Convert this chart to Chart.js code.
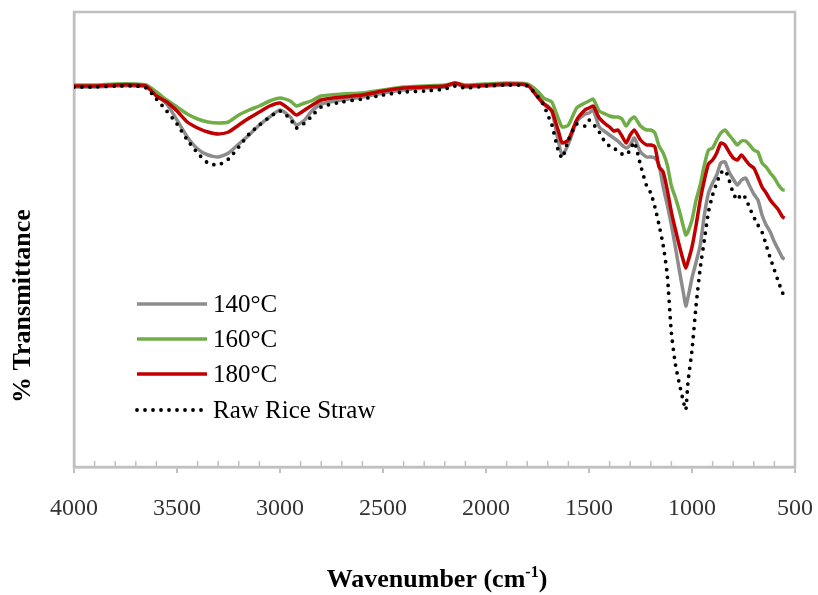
<!DOCTYPE html>
<html>
<head>
<meta charset="utf-8">
<script src="https://cdn.jsdelivr.net/npm/chart.js@4/dist/chart.umd.min.js"></script>
<style>
  html, body { margin: 0; padding: 0; background: #fff; }
  #wrap { width: 818px; height: 595px; }
</style>
</head>
<body>
<div id="wrap"><canvas id="ftir" width="818" height="595"></canvas></div>
<script>
// wavenumbers (cm-1)
const wavenumbers = [4000, 3900, 3800, 3700, 3650, 3600, 3550, 3500, 3450, 3400,
  3350, 3300, 3250, 3200, 3150, 3100, 3050, 3000, 2950, 2920,
  2880, 2850, 2800, 2700, 2600, 2500, 2400, 2300, 2200, 2150,
  2100, 2000, 1900, 1800, 1750, 1720, 1700, 1680, 1650, 1630,
  1600, 1560, 1520, 1500, 1480, 1450, 1420, 1400, 1380, 1360,
  1340, 1320, 1300, 1280, 1250, 1220, 1200, 1180, 1160, 1140,
  1120, 1100, 1080, 1060, 1040, 1030, 1020, 1000, 980, 960,
  940, 920, 900, 880, 860, 840, 820, 800, 780, 760,
  740, 720, 700, 680, 660, 640, 620, 600, 580, 560, 550];

const t140 = [76.0, 76.0, 76.2, 76.2, 76.0, 74.4, 72.6, 69.4, 66.0, 63.6,
  62.4, 62.0, 62.8, 64.6, 66.4, 68.4, 70.0, 71.4, 70.0, 68.4,
  69.4, 71.0, 72.6, 73.4, 74.0, 74.8, 75.4, 75.8, 76.0, 76.6,
  76.0, 76.2, 76.4, 76.4, 74.8, 72.8, 72.2, 71.2, 65.4, 62.4,
  64.6, 69.0, 70.6, 70.8, 71.4, 68.0, 67.0, 66.4, 65.8, 65.2,
  64.4, 63.8, 64.4, 65.8, 63.0, 62.0, 62.0, 61.8, 60.4, 56.0,
  52.4, 48.4, 43.8, 39.0, 34.4, 32.2, 33.8, 37.8, 41.0, 44.4,
  50.4, 54.8, 56.8, 58.4, 60.8, 61.0, 59.0, 57.6, 56.4, 57.4,
  57.8, 56.2, 54.6, 53.4, 50.4, 48.4, 47.0, 45.0, 43.4, 41.8, 41.6];

const t160 = [76.4, 76.4, 76.6, 76.6, 76.4, 75.0, 73.4, 72.0, 70.6, 69.6,
  69.0, 68.8, 69.0, 70.4, 71.4, 72.2, 73.2, 73.8, 73.2, 72.2,
  72.8, 73.2, 74.2, 74.6, 74.8, 75.4, 76.0, 76.2, 76.4, 76.8,
  76.4, 76.6, 76.8, 76.6, 75.2, 73.8, 73.4, 73.0, 69.8, 68.0,
  68.4, 71.8, 72.8, 73.2, 73.6, 71.2, 70.6, 70.2, 70.0, 70.0,
  69.6, 68.2, 69.4, 70.0, 68.2, 67.4, 67.4, 66.8, 64.2, 62.8,
  60.4, 56.2, 53.8, 51.0, 47.8, 46.4, 47.0, 49.4, 53.4, 56.4,
  60.4, 63.4, 63.8, 65.4, 66.8, 67.4, 66.4, 65.4, 64.4, 65.2,
  65.2, 64.4, 63.4, 63.0, 60.8, 60.0, 58.8, 57.8, 56.4, 55.4, 55.4];

const t180 = [76.2, 76.2, 76.4, 76.4, 76.2, 74.2, 73.0, 71.2, 69.0, 67.8,
  67.0, 66.6, 67.0, 68.4, 69.8, 71.0, 72.2, 72.8, 71.4, 70.4,
  71.4, 72.2, 73.4, 74.0, 74.4, 75.2, 75.8, 76.0, 76.2, 76.8,
  76.2, 76.4, 76.6, 76.4, 74.0, 72.6, 72.0, 71.2, 67.4, 64.8,
  65.4, 69.4, 71.4, 71.8, 72.2, 69.8, 68.6, 68.0, 67.2, 67.4,
  66.2, 64.8, 66.4, 67.4, 65.4, 64.4, 64.4, 64.0, 60.0, 59.0,
  55.4, 51.0, 47.4, 44.0, 41.0, 39.8, 41.0, 44.0, 48.4, 53.4,
  57.4, 60.6, 61.4, 62.8, 64.8, 64.4, 63.0, 61.8, 61.4, 62.4,
  61.4, 60.4, 59.8, 58.0, 56.0, 54.8, 53.4, 52.4, 51.4, 50.0, 49.8];

const tRaw = [76.0, 76.0, 76.2, 76.2, 75.8, 73.6, 71.2, 68.6, 65.4, 62.8,
  60.8, 60.4, 61.6, 64.0, 66.6, 68.4, 70.0, 71.2, 69.6, 67.8,
  68.8, 70.0, 72.0, 73.0, 73.6, 74.4, 75.0, 75.2, 75.6, 76.2,
  75.8, 76.2, 76.4, 76.2, 74.2, 72.4, 70.4, 68.4, 63.4, 61.8,
  65.4, 68.6, 68.2, 69.4, 68.6, 67.0, 64.8, 64.2, 63.8, 63.2,
  62.6, 62.4, 63.4, 65.0, 60.4, 56.2, 54.8, 52.0, 48.4, 44.4,
  38.4, 26.8, 20.4, 16.4, 12.8, 11.4, 16.8, 23.4, 32.4, 39.8,
  45.4, 51.0, 54.4, 56.8, 58.8, 59.4, 57.4, 54.8, 53.4, 54.6,
  53.8, 51.8, 50.0, 48.4, 47.0, 44.4, 41.8, 39.4, 37.0, 34.8, 34.2];

const seriesNames = ['140°C', '160°C', '180°C', 'Raw Rice Straw'];
const seriesColors = ['#8c8c8c', '#70ad47', '#c00000', '#000000'];

const SERIF = "'Liberation Serif', 'Times New Roman', serif";

function toPoints(values) {
  return wavenumbers.map((w, i) => ({ x: w, y: values[i] }));
}

// grey plot frame, minor ticks, legend and both axis titles
const decorPlugin = {
  id: 'decor',
  beforeDatasetsDraw(chart) {
    const { ctx, chartArea: a, scales: { x } } = chart;
    ctx.save();
    ctx.strokeStyle = '#c0c0c0';
    ctx.lineWidth = 2.5;
    ctx.strokeRect(a.left, a.top, a.right - a.left, a.bottom - a.top);
    ctx.lineWidth = 1.5;
    for (let w = 600; w < 4000; w += 100) {
      if (w % 500 === 0) continue;
      const px = x.getPixelForValue(w);
      ctx.beginPath();
      ctx.moveTo(px, a.bottom);
      ctx.lineTo(px, a.bottom - 6);
      ctx.stroke();
    }
    ctx.restore();
  },
  afterDraw(chart) {
    const { ctx } = chart;
    ctx.save();

    // legend
    const rows = [304, 339, 374, 410];
    chart.data.datasets.forEach((ds, i) => {
      const y = rows[i];
      ctx.beginPath();
      ctx.strokeStyle = ds.borderColor;
      ctx.lineWidth = ds.borderWidth;
      ctx.lineCap = ds.borderCapStyle || 'butt';
      ctx.setLineDash(ds.borderDash || []);
      ctx.moveTo(137, y);
      ctx.lineTo(207, y);
      ctx.stroke();
      ctx.setLineDash([]);
      ctx.fillStyle = '#000';
      ctx.font = '25px ' + SERIF;
      ctx.textBaseline = 'middle';
      ctx.textAlign = 'left';
      ctx.fillText(ds.label, 213, y + 1);
    });

    // y title
    ctx.save();
    ctx.translate(23, 306);
    ctx.rotate(-Math.PI / 2);
    ctx.font = 'bold 26px ' + SERIF;
    ctx.fillStyle = '#000';
    ctx.textAlign = 'center';
    ctx.textBaseline = 'middle';
    ctx.fillText('% Transmittance', 0, 0);
    ctx.restore();

    // x title with superscript
    const base = 'Wavenumber (cm';
    const sup = '-1';
    const end = ')';
    ctx.fillStyle = '#000';
    ctx.textBaseline = 'alphabetic';
    ctx.textAlign = 'left';
    ctx.font = 'bold 26px ' + SERIF;
    const wBase = ctx.measureText(base).width;
    const wEnd = ctx.measureText(end).width;
    ctx.font = 'bold 16px ' + SERIF;
    const wSup = ctx.measureText(sup).width;
    let tx = 437 - (wBase + wSup + wEnd) / 2;
    const ty = 587;
    ctx.font = 'bold 26px ' + SERIF;
    ctx.fillText(base, tx, ty);
    tx += wBase;
    ctx.font = 'bold 16px ' + SERIF;
    ctx.fillText(sup, tx, ty - 10);
    tx += wSup;
    ctx.font = 'bold 26px ' + SERIF;
    ctx.fillText(end, tx, ty);

    ctx.restore();
  }
};

new Chart(document.getElementById('ftir'), {
  type: 'line',
  data: {
    datasets: [
      { label: seriesNames[0], data: toPoints(t140), borderColor: seriesColors[0], borderWidth: 3.5, order: 4 },
      { label: seriesNames[1], data: toPoints(t160), borderColor: seriesColors[1], borderWidth: 3.5, order: 3 },
      { label: seriesNames[2], data: toPoints(t180), borderColor: seriesColors[2], borderWidth: 3.5, order: 2 },
      { label: seriesNames[3], data: toPoints(tRaw), borderColor: seriesColors[3], borderWidth: 3.8,
        borderDash: [0, 8], borderCapStyle: 'round', order: 1 }
    ]
  },
  options: {
    responsive: false,
    animation: false,
    events: [],
    layout: { padding: { top: 12, right: 23, left: 0, bottom: 0 } },
    elements: {
      point: { radius: 0 },
      line: { tension: 0.2, fill: false }
    },
    plugins: {
      legend: { display: false },
      tooltip: { enabled: false }
    },
    scales: {
      x: {
        type: 'linear',
        reverse: true,
        min: 500,
        max: 4000,
        afterFit(scale) {
          scale.height = 128;
          scale.paddingLeft = 0;
          scale.paddingRight = 0;
        },
        ticks: {
          stepSize: 500,
          padding: 21,
          color: '#333333',
          font: { family: SERIF, size: 24 },
          maxRotation: 0,
          callback: (v) => String(v)
        },
        grid: {
          drawOnChartArea: false,
          drawTicks: true,
          tickLength: 6,
          color: '#c0c0c0',
          lineWidth: 2
        },
        border: { display: true, color: '#c0c0c0', width: 2.5 }
      },
      y: {
        min: 0,
        max: 91,
        afterFit(scale) { scale.width = 74; },
        ticks: { display: false },
        grid: { display: false },
        border: { display: true, color: '#c0c0c0', width: 2.5 }
      }
    }
  },
  plugins: [decorPlugin]
});
</script>
</body>
</html>
